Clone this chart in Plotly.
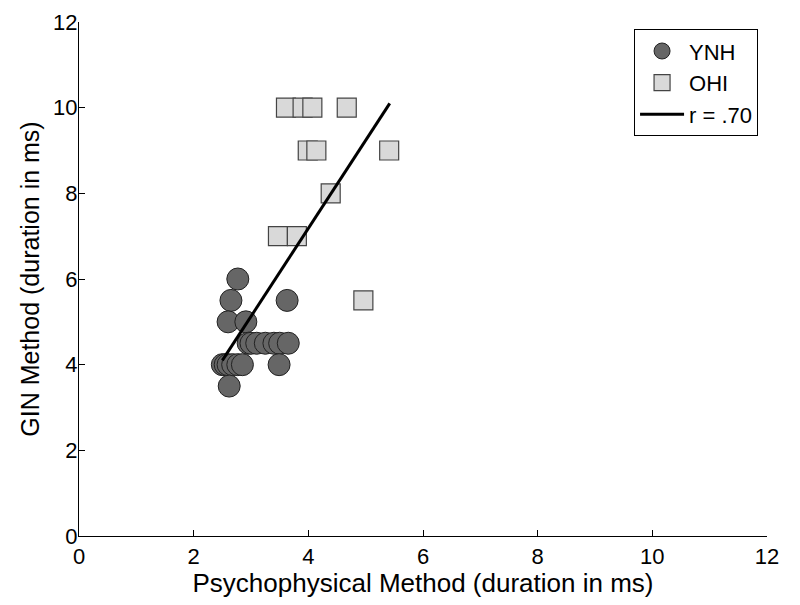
import plotly.graph_objects as go

# YNH (young normal hearing)
ynh_x = [2.77, 2.65, 3.63, 2.60, 2.91, 2.95, 3.00, 3.10, 3.25, 3.40, 3.50, 3.65,
         2.50, 2.55, 2.60, 2.68, 2.77, 2.85, 3.49, 2.62]
ynh_y = [6.0, 5.5, 5.5, 5.0, 5.0, 4.5, 4.5, 4.5, 4.5, 4.5, 4.5, 4.5,
         4.0, 4.0, 4.0, 4.0, 4.0, 4.0, 4.0, 3.5]

# OHI (older hearing impaired)
ohi_x = [3.61, 3.90, 4.07, 4.67, 3.99, 4.14, 5.41, 4.39, 3.47, 3.80, 4.96]
ohi_y = [10.0, 10.0, 10.0, 10.0, 9.0, 9.0, 9.0, 8.0, 7.0, 7.0, 5.5]

# Regression line
fit_x = [2.50, 5.42]
fit_y = [4.1, 10.1]

x_ticks = [0, 2, 4, 6, 8, 10, 12]
y_ticks = [0, 2, 4, 6, 8, 10, 12]

FONT = "Liberation Sans, Arial, sans-serif"

fig = go.Figure()
fig.add_trace(go.Scatter(
    x=ynh_x, y=ynh_y, mode="markers", name="YNH",
    marker=dict(symbol="circle", size=22, color="#666666",
                line=dict(color="#222222", width=1)),
))
fig.add_trace(go.Scatter(
    x=ohi_x, y=ohi_y, mode="markers", name="OHI",
    marker=dict(symbol="square", size=19, color="#d9d9d9",
                line=dict(color="#444444", width=1.2)),
))
fig.add_trace(go.Scatter(
    x=fit_x, y=fit_y, mode="lines", name="r = .70",
    line=dict(color="black", width=3),
))

axis_common = dict(
    range=[0, 12], showgrid=False, zeroline=False,
    showline=True, linecolor="black", linewidth=1.2,
    ticks="inside", ticklen=6, tickcolor="black", tickwidth=1,
    tickfont=dict(size=22, color="black", family=FONT),
    mirror=False, automargin=False,
)

fig.update_layout(
    width=792, height=597,
    margin=dict(l=71, r=33, t=14, b=69),
    paper_bgcolor="white", plot_bgcolor="white",
    font=dict(family=FONT, size=22, color="black"),
    xaxis=dict(**axis_common, tickvals=x_ticks,
               title=dict(text="Psychophysical Method (duration in ms)",
                          font=dict(size=26, family=FONT), standoff=1)),
    yaxis=dict(**axis_common, tickvals=y_ticks, ticklabelstandoff=-4,
               title=dict(text="GIN Method (duration in ms)",
                          font=dict(size=25, family=FONT), standoff=6)),
    legend=dict(x=0.987, y=0.986, xanchor="right", yanchor="top",
                bordercolor="black", borderwidth=1, bgcolor="white",
                font=dict(size=22, family=FONT), itemwidth=44, tracegroupgap=0),
    showlegend=True,
)

fig.write_html("out.html")
